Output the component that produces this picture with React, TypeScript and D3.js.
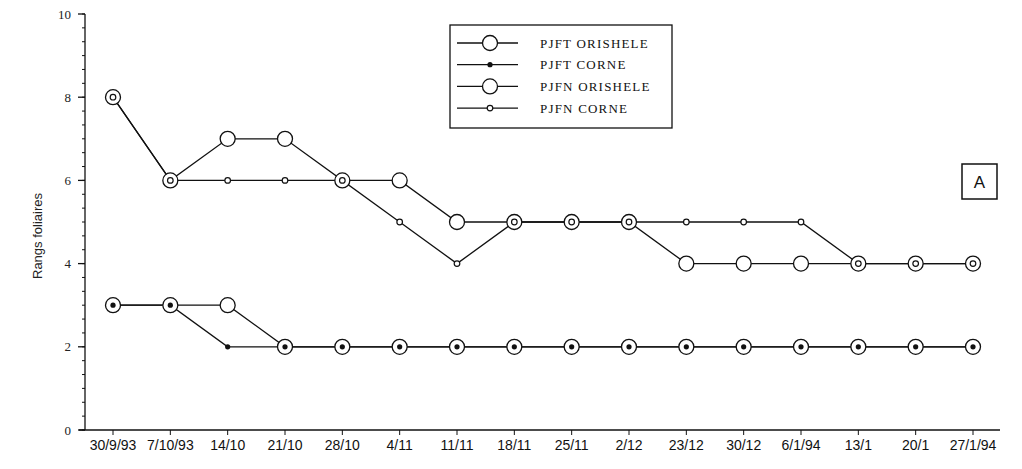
import { useRef, useEffect } from 'react'
import * as d3 from 'd3'

const dates = [
  '30/9/93', '7/10/93', '14/10', '21/10', '28/10', '4/11', '11/11', '18/11',
  '25/11', '2/12', '23/12', '30/12', '6/1/94', '13/1', '20/1', '27/1/94',
]

const pjftOrishele = [3, 3, 3, 2, 2, 2, 2, 2, 2, 2, 2, 2, 2, 2, 2, 2]
const pjftCorne = [3, 3, 2, 2, 2, 2, 2, 2, 2, 2, 2, 2, 2, 2, 2, 2]
const pjfnOrishele = [8, 6, 7, 7, 6, 6, 5, 5, 5, 5, 4, 4, 4, 4, 4, 4]
const pjfnCorne = [8, 6, 6, 6, 6, 5, 4, 5, 5, 5, 5, 5, 5, 4, 4, 4]

const yMajorTicks = [0, 2, 4, 6, 8, 10]

type MarkerKind = 'big' | 'dot' | 'small'

const series: { name: string; values: number[]; marker: MarkerKind }[] = [
  { name: 'PJFT ORISHELE', values: pjftOrishele, marker: 'big' },
  { name: 'PJFT CORNE', values: pjftCorne, marker: 'dot' },
  { name: 'PJFN ORISHELE', values: pjfnOrishele, marker: 'big' },
  { name: 'PJFN CORNE', values: pjfnCorne, marker: 'small' },
]

const W = 1022
const H = 469

function drawMarker(
  g: d3.Selection<SVGGElement, unknown, null, undefined>,
  kind: MarkerKind,
  cx: number,
  cy: number
) {
  if (kind === 'big') {
    g.append('circle').attr('cx', cx).attr('cy', cy).attr('r', 7.5)
      .attr('fill', '#fff').attr('stroke', '#111').attr('stroke-width', 1.3)
  } else if (kind === 'dot') {
    g.append('circle').attr('cx', cx).attr('cy', cy).attr('r', 2.6)
      .attr('fill', '#111')
  } else {
    g.append('circle').attr('cx', cx).attr('cy', cy).attr('r', 2.8)
      .attr('fill', '#fff').attr('stroke', '#111').attr('stroke-width', 1.2)
  }
}

export default function App() {
  const ref = useRef<SVGSVGElement>(null)

  useEffect(() => {
    if (!ref.current) return
    const svg = d3.select(ref.current)
    svg.selectAll('*').remove()

    const x = d3.scalePoint<string>().domain(dates).range([113, 973])
    const y = d3.scaleLinear().domain([0, 10]).range([430, 14])

    // axes
    const axisG = svg.append('g').attr('stroke', '#111').attr('stroke-width', 1.3)
    axisG.append('line').attr('x1', 85).attr('x2', 85).attr('y1', y(10)).attr('y2', y(0))
    axisG.append('line').attr('x1', 79).attr('x2', 1000).attr('y1', y(0)).attr('y2', y(0))

    // minor ticks every third of a unit
    d3.range(0, 31).forEach((i) => {
      const v = i / 3
      if (v > 10) return
      axisG.append('line').attr('x1', 82).attr('x2', 85).attr('y1', y(v)).attr('y2', y(v))
        .attr('stroke-width', 1)
    })
    yMajorTicks.forEach((v) => {
      axisG.append('line').attr('x1', 78).attr('x2', 85).attr('y1', y(v)).attr('y2', y(v))
      svg.append('text').attr('x', 71).attr('y', y(v) + 4.5).attr('text-anchor', 'end')
        .attr('font-family', 'Liberation Serif, serif').attr('font-size', 13)
        .attr('fill', '#222').text(v)
    })

    dates.forEach((d) => {
      const px = x(d)!
      axisG.append('line').attr('x1', px).attr('x2', px).attr('y1', y(0)).attr('y2', y(0) + 5)
        .attr('stroke-width', 1)
      svg.append('text').attr('x', px).attr('y', 450).attr('text-anchor', 'middle')
        .attr('font-family', 'Liberation Sans, Arial, sans-serif').attr('font-size', 14)
        .attr('fill', '#111').text(d)
    })

    svg.append('text')
      .attr('transform', `translate(42, 236) rotate(-90)`)
      .attr('text-anchor', 'middle')
      .attr('font-family', 'Liberation Sans, Arial, sans-serif').attr('font-size', 13)
      .attr('fill', '#222').text('Rangs foliaires')

    // lines
    const line = d3.line<number>()
      .x((_, i) => x(dates[i])!)
      .y((v) => y(v))

    series.forEach((s) => {
      svg.append('path').attr('d', line(s.values)).attr('fill', 'none')
        .attr('stroke', '#111').attr('stroke-width', 1.3)
    })

    // markers: big circles first, then small ones on top
    const markG = svg.append('g')
    ;['big', 'small', 'dot'].forEach((k) => {
      series.filter((s) => s.marker === k).forEach((s) => {
        s.values.forEach((v, i) => drawMarker(markG, s.marker, x(dates[i])!, y(v)))
      })
    })

    // legend
    const lg = svg.append('g')
    lg.append('rect').attr('x', 450).attr('y', 25).attr('width', 222).attr('height', 103)
      .attr('fill', '#fff').attr('stroke', '#111').attr('stroke-width', 1.3)
    series.forEach((s, i) => {
      const ly = 43 + i * 21.7
      lg.append('line').attr('x1', 457).attr('x2', 518).attr('y1', ly).attr('y2', ly)
        .attr('stroke', '#111').attr('stroke-width', 1.3)
      drawMarker(lg, s.marker, 490, ly)
      lg.append('text').attr('x', 540).attr('y', ly + 4.5)
        .attr('font-family', 'Liberation Serif, serif').attr('font-size', 13)
        .attr('letter-spacing', 1.2)
        .attr('fill', '#111').text(s.name)
    })

    // panel label
    svg.append('rect').attr('x', 962).attr('y', 164).attr('width', 35).attr('height', 35)
      .attr('fill', '#fff').attr('stroke', '#111').attr('stroke-width', 1.5)
    svg.append('text').attr('x', 979.5).attr('y', 188).attr('text-anchor', 'middle')
      .attr('font-family', 'Liberation Sans, Arial, sans-serif').attr('font-size', 17)
      .attr('fill', '#111').text('A')
  }, [])

  return (
    <svg
      ref={ref}
      width={W}
      height={H}
      style={{ position: 'absolute', left: 0, top: 0, background: '#fff' }}
    />
  )
}
